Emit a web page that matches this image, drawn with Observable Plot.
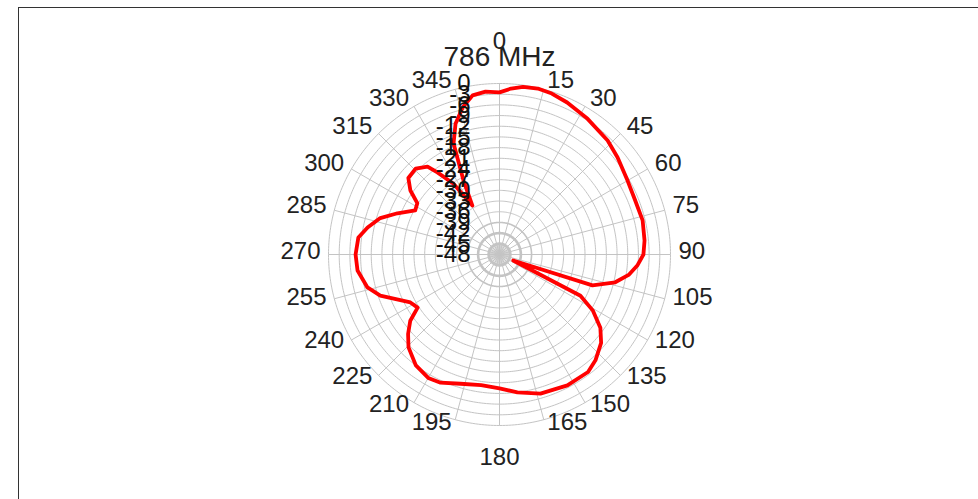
<!DOCTYPE html>
<html><head><meta charset="utf-8">
<script src="https://cdn.jsdelivr.net/npm/d3@7"></script>
<script src="https://cdn.jsdelivr.net/npm/@observablehq/plot@0.6"></script>
<style>
html,body{margin:0;padding:0;background:#fff;}
#wrap{position:relative;width:978px;height:499px;overflow:hidden;}
#wrap svg{position:absolute;left:0;top:0;}
#frame{position:absolute;left:18px;top:7px;width:1000px;height:600px;border-left:1px solid #333;border-top:1px solid #333;pointer-events:none;}
</style></head><body><div id="wrap"></div>
<script>
const title = "786 MHz";
// azimuth angles (degrees) and gain (dB)
const angles = [0, 4, 8, 13, 18, 24, 33, 43.5, 50.6, 60, 68, 76.6, 84.5, 90, 94.6, 99, 103.5, 108.4, 113.5, 117, 121, 126, 131, 137.8, 143, 152.6, 163.6, 172.6, 180, 188, 196.8, 204.7, 210, 217, 224.4, 229, 233.4, 237, 241.7, 251, 256, 263.6, 270, 276.9, 281.6, 287, 292, 297.6, 302, 305.7, 310, 315.7, 320.7, 322.9, 327, 331, 334, 337.5, 341.4, 346, 350.4, 355.1];
const gains  = [-2.5, -1.3, -0.5, -0.2, -0.5, -1.3, -2.6, -3.9, -5.1, -6.5, -7.0, -6.7, -7.1, -7.6, -9.2, -11.3, -14.6, -20.5, -43.8, -22.5, -17.4, -13.0, -10.2, -7.9, -6.7, -6.6, -7.3, -9.0, -10.4, -11.0, -10.1, -8.4, -8.0, -9.0, -11.5, -14.0, -16.8, -20.6, -19.6, -12.6, -9.8, -7.9, -7.6, -8.1, -10.2, -13.0, -17.1, -21.3, -20.8, -17.2, -14.6, -14.3, -16.1, -19.1, -24.3, -32.3, -25.0, -14.3, -9.3, -5.4, -2.7, -2.1];
const rLevels = [0, -3, -6, -9, -12, -15, -18, -21, -24, -27, -30, -33, -36, -39, -42, -45, -48];
const angleTicks = [0, 15, 30, 45, 60, 75, 90, 105, 120, 135, 150, 165, 180, 195, 210, 225, 240, 255, 270, 285, 300, 315, 330, 345];

const rMin = d3.min(rLevels), rMax = d3.max(rLevels);
const span = rMax - rMin;
const px = (deg, v) => { const t = deg * Math.PI / 180, r = v - rMin; return {x: r * Math.sin(t), y: r * Math.cos(t)}; };

const pattern = angles.map((a, i) => px(a, gains[i]));
pattern.push(pattern[0]);

const ringData = (levels) => levels.flatMap(l => d3.range(0, 361, 1).map(a => ({level: l, ...px(a, l)})));
const outerRings = rLevels.filter(l => l > -39);
const ring39 = [-39], ring42 = [-42], ring45 = [-45];
const denseSpokes = d3.range(0, 360, 7.5);

const lblV = rMax + span * 6 / 171;
const right = angleTicks.filter(a => a > 0 && a < 180);
const left = angleTicks.filter(a => a > 180);

const grid = "#c4c4c4";
const plot = Plot.plot({
  width: 978, height: 499,
  x: {domain: [-span, span], range: [328, 670], axis: null},
  y: {domain: [-span, span], range: [425, 83], axis: null},
  style: {fontFamily: "'Liberation Sans', Arial, sans-serif", background: "transparent"},
  marks: [
    Plot.link(denseSpokes, {x1: () => 0, y1: () => 0, x2: a => px(a, -45).x, y2: a => px(a, -45).y, stroke: "#cfcfcf", strokeWidth: 1}),
    Plot.link(angleTicks, {x1: () => 0, y1: () => 0, x2: a => px(a, rMax).x, y2: a => px(a, rMax).y, stroke: grid, strokeWidth: 1}),
    Plot.line(ringData(outerRings), {x: "x", y: "y", z: "level", stroke: grid, strokeWidth: 1}),
    Plot.line(ringData(ring39), {x: "x", y: "y", z: "level", stroke: grid, strokeWidth: 1.6}),
    Plot.line(ringData(ring42), {x: "x", y: "y", z: "level", stroke: grid, strokeWidth: 2.6}),
    Plot.line(ringData(ring45), {x: "x", y: "y", z: "level", stroke: grid, strokeWidth: 3}),
    Plot.line(pattern, {x: "x", y: "y", stroke: "#ff0000", strokeWidth: 3.8, strokeLinejoin: "round", strokeLinecap: "round"}),
    Plot.text(rLevels, {x: () => 0, y: l => l - rMin, text: l => String(l), textAnchor: "end", dx: -29, fontSize: 24, fill: "#111"}),
    Plot.text(right, {x: a => px(a, lblV).x, y: a => px(a, lblV).y, text: a => String(a), textAnchor: "start", dx: 2, dy: -3, fontSize: 24, fill: "#222"}),
    Plot.text(left, {x: a => px(a, lblV).x, y: a => px(a, lblV).y, text: a => String(a), textAnchor: "end", dx: -2, dy: -3, fontSize: 24, fill: "#222"}),
    Plot.text([0], {x: a => px(a, rMax).x, y: a => px(a, rMax).y, text: a => String(a), textAnchor: "middle", dy: -42, fontSize: 24, fill: "#222"}),
    Plot.text([180], {x: a => px(a, rMax).x, y: a => px(a, rMax).y, text: a => String(a), textAnchor: "middle", dy: 32, fontSize: 24, fill: "#222"}),
    Plot.text([title], {x: () => 0, y: () => span, text: d => d, textAnchor: "middle", dy: -26, fontSize: 28, fill: "#222"})
  ]
});
const wrap = document.getElementById("wrap");
wrap.appendChild(plot);
const fr = document.createElement("div"); fr.id = "frame"; wrap.appendChild(fr);
</script></body></html>
